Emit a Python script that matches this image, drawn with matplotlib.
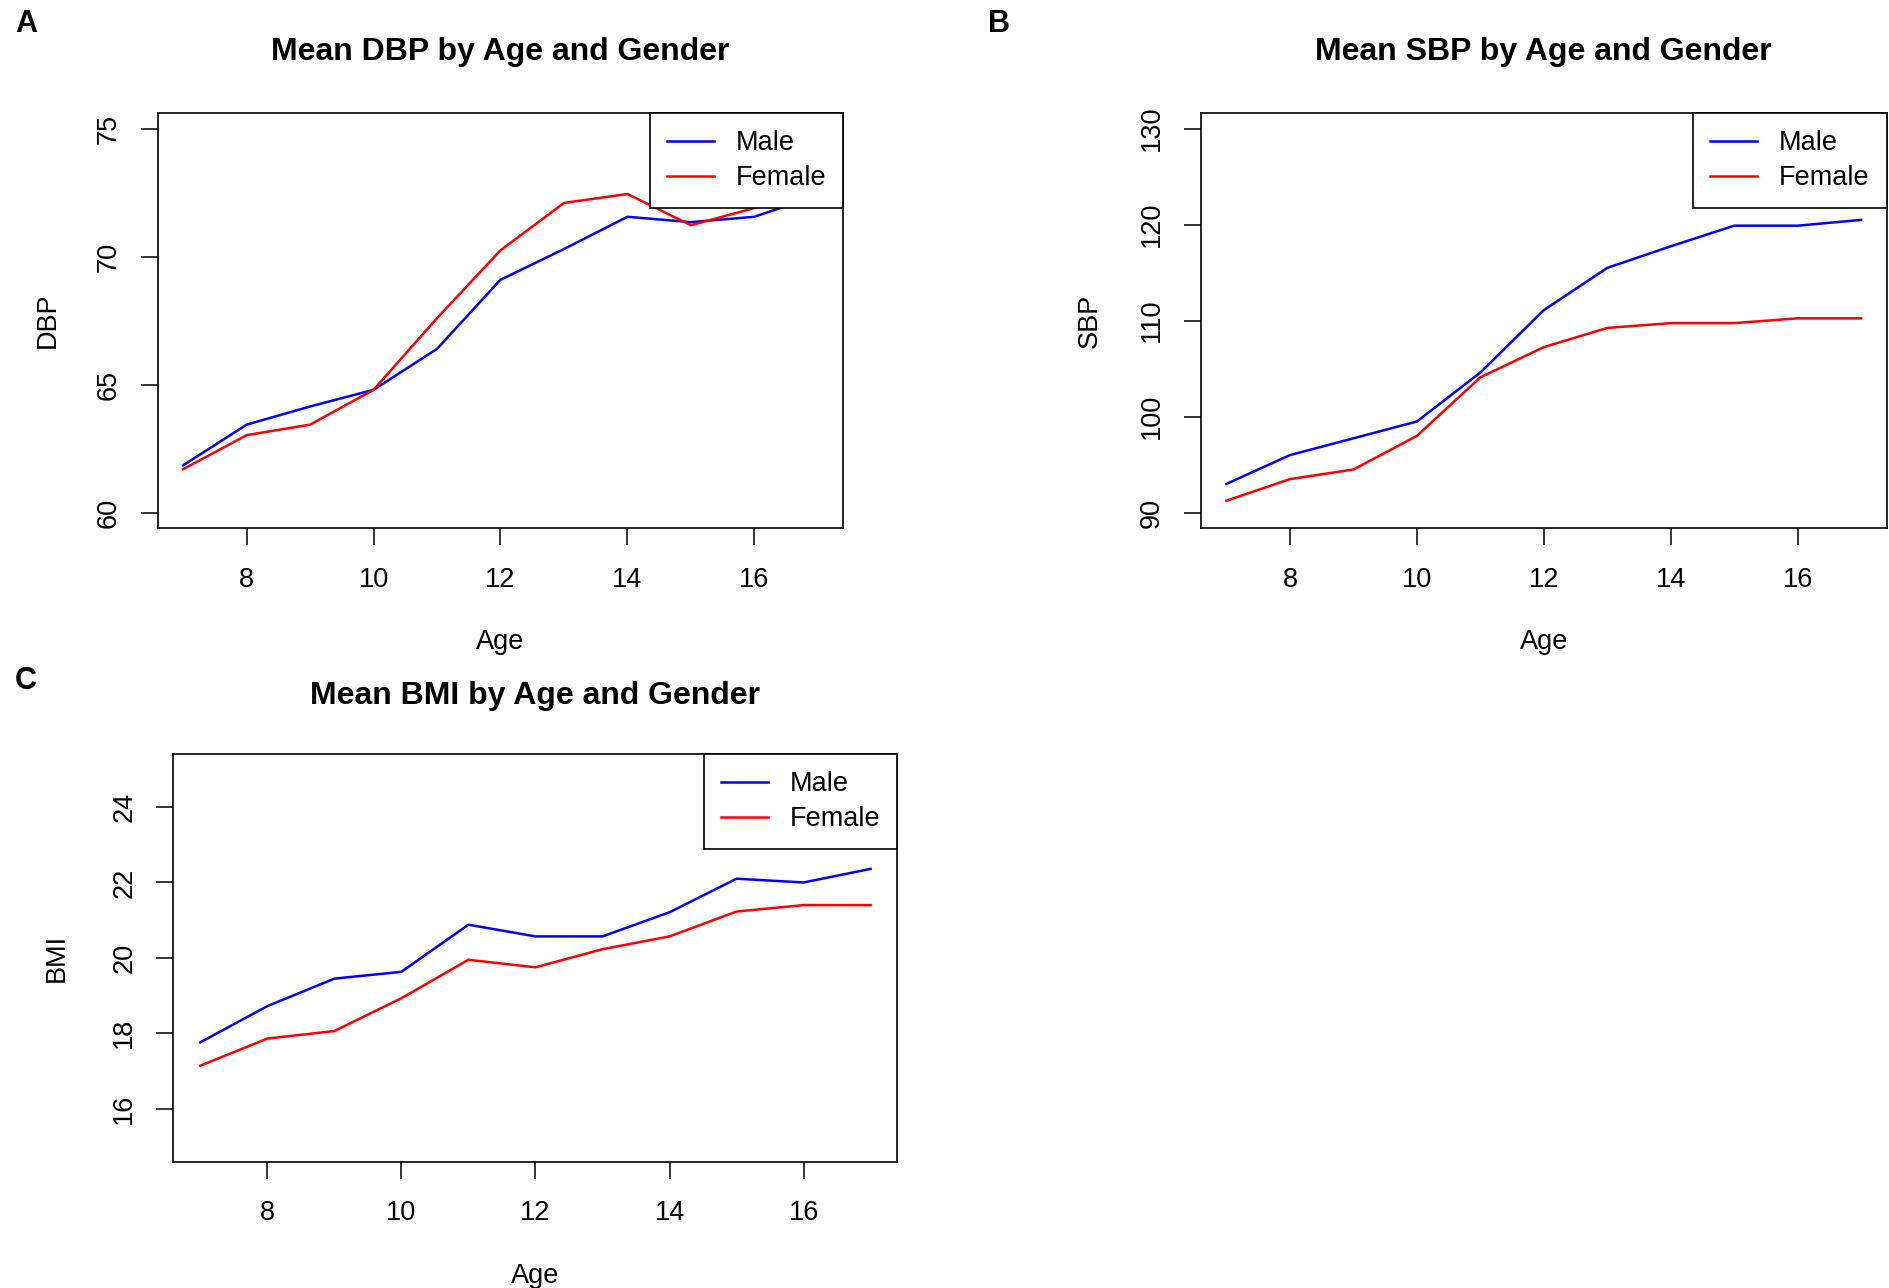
import matplotlib
matplotlib.use("Agg")
import matplotlib.pyplot as plt

plt.rcParams['font.family'] = ['Liberation Sans', 'DejaVu Sans']

ages = [7, 8, 9, 10, 11, 12, 13, 14, 15, 16, 17]

dbp_male = [61.85, 63.44, 64.15, 64.8, 66.4, 69.1, 70.3, 71.56, 71.35, 71.56, 72.4]
dbp_female = [61.7, 63.03, 63.44, 64.8, 67.6, 70.25, 72.1, 72.45, 71.23, 71.9, 72.6]

sbp_male = [93.0, 96.0, 97.75, 99.5, 104.6, 111.1, 115.5, 117.75, 119.9, 119.9, 120.5]
sbp_female = [91.25, 93.5, 94.5, 98.0, 104.1, 107.25, 109.25, 109.75, 109.75, 110.25, 110.25]

bmi_male = [17.76, 18.72, 19.45, 19.63, 20.88, 20.57, 20.57, 21.21, 22.1, 22.0, 22.36]
bmi_female = [17.14, 17.86, 18.06, 18.93, 19.95, 19.75, 20.23, 20.57, 21.23, 21.4, 21.4]

panels = [
    dict(letter="A", title="Mean DBP by Age and Gender", ylabel="DBP",
         male=dbp_male, female=dbp_female, ylim=(60, 75), yticks=[60, 65, 70, 75],
         rect=(0.0835, 0.590, 0.3629, 0.322), ylab_x=0.0255, letter_xy=(0.008, 0.981),
         title_dy=0.0475),
    dict(letter="B", title="Mean SBP by Age and Gender", ylabel="SBP",
         male=sbp_male, female=sbp_female, ylim=(90, 130), yticks=[90, 100, 110, 120, 130],
         rect=(0.6358, 0.590, 0.3629, 0.322), ylab_x=0.577, letter_xy=(0.523, 0.981),
         title_dy=0.0475),
    dict(letter="C", title="Mean BMI by Age and Gender", ylabel="BMI",
         male=bmi_male, female=bmi_female, ylim=(15, 25), yticks=[16, 18, 20, 22, 24],
         rect=(0.0918, 0.0982, 0.3833, 0.3162), ylab_x=0.030, letter_xy=(0.008, 0.471),
         title_dy=0.045),
]

fig = plt.figure(figsize=(18.89, 12.88), dpi=100)
fig.patch.set_facecolor("white")

FS = 19.5
for p in panels:
    ax = fig.add_axes(p["rect"])
    ax.plot(ages, p["male"], color="blue", lw=1.8, label="Male")
    ax.plot(ages, p["female"], color="red", lw=1.8, label="Female")
    x0, x1 = 7, 17
    dx = (x1 - x0) * 0.04
    ax.set_xlim(x0 - dx, x1 + dx)
    y0, y1 = p["ylim"]
    dy = (y1 - y0) * 0.04
    ax.set_ylim(y0 - dy, y1 + dy)
    ax.set_xticks([8, 10, 12, 14, 16])
    ax.set_yticks(p["yticks"])
    ax.set_yticklabels([str(v) for v in p["yticks"]], rotation=90, va="center")
    ax.tick_params(axis="both", direction="out", length=12, width=1.1,
                   labelsize=FS, color="black")
    ax.tick_params(axis="x", pad=16)
    ax.tick_params(axis="y", pad=14)
    for s in ax.spines.values():
        s.set_linewidth(1.2)
        s.set_color("black")
    leg = ax.legend(loc="upper right", borderaxespad=0, fancybox=False,
                    edgecolor="black", framealpha=1, fontsize=FS,
                    handlelength=1.75, handletextpad=0.8, borderpad=0.62,
                    labelspacing=0.33)
    leg.get_frame().set_linewidth(1.2)
    leg.set_zorder(5)
    bb = p["rect"]
    cx = bb[0] + bb[2] / 2
    top = bb[1] + bb[3]
    fig.text(cx, top + p["title_dy"], p["title"], ha="center", va="center",
             fontsize=23, fontweight="bold")
    fig.text(cx, bb[1] - 0.0885, "Age", ha="center", va="center", fontsize=FS)
    fig.text(p["ylab_x"], bb[1] + bb[3] / 2, p["ylabel"], ha="center", va="center",
             rotation=90, fontsize=FS)
    fig.text(p["letter_xy"][0], p["letter_xy"][1], p["letter"], ha="left", va="center",
             fontsize=22, fontweight="bold")

fig.savefig("out.png", dpi=100, facecolor="white")
